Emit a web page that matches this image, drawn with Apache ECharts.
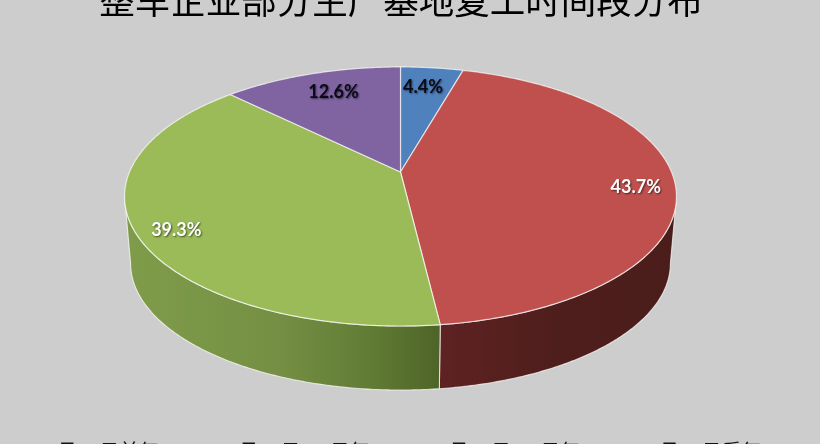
<!DOCTYPE html>
<html><head><meta charset="utf-8">
<style>html,body{margin:0;padding:0;background:#cdcdcd;overflow:hidden}#c{width:820px;height:444px}</style>
<script src="https://cdn.jsdelivr.net/npm/echarts@6/dist/echarts.min.js"></script>
</head><body><div id="c"></div>
<script>
var titleText = '整车企业部分生产基地复工时间段分布';
var categories = ['2月10日前复工', '2月10日-17日复工', '2月18日-24日复工', '2月25日后复工'];
var values = [4.4, 43.7, 39.3, 12.6];
var colors = ['#4f81bd', '#c0504d', '#9bbb59', '#8064a2'];
var labelColors = ['#0b0b14', '#ffffff', '#ffffff', '#0b0b14'];
var labelShadow = ['rgba(20,30,60,.7)', 'rgba(40,20,20,.8)', 'rgba(40,50,20,.8)', 'rgba(30,20,50,.7)'];
var labelNudge = [[-4, 3], [11, 7], [-10, 10], [8, 3]];
var wallStops = [
  null,
  [[0, '#5e2222'], [0.5, '#4e1e1c'], [1, '#4a1d1b']],
  [[0, '#7f9c4a'], [0.5, '#748f43'], [0.8, '#5f7a33'], [1, '#4e6428']],
  null
];

// Tilted-disc projection: circle angle -> screen point
var CX = 400.5, TOP_Y = 172, BOT_Y = 239.4, BOT_SCALE = 0.978;
var A = 271, B = 124.9, P = -0.189;
function proj(theta, r, yBase, s) {
  var u = r * Math.sin(theta), v = -r * Math.cos(theta), w = 1 + P * v;
  return [CX + s * A * u / w, yBase + s * B * v / w];
}
var total = values.reduce(function (a, b) { return a + b; }, 0);
var TWO_PI = Math.PI * 2;
var FRONT_A = Math.acos(P), FRONT_B = TWO_PI - FRONT_A;

function arc(a0, a1, yBase, s) {
  var pts = [], n = Math.max(2, Math.ceil(Math.abs(a1 - a0) / 0.01));
  for (var i = 0; i <= n; i++) pts.push(proj(a0 + (a1 - a0) * i / n, 1, yBase, s));
  return pts;
}
function renderSlice(idx) {
  return function (params, api) {
    var v = api.value(0);
    var before = values.slice(0, idx).reduce(function (a, b) { return a + b; }, 0);
    var a0 = before / total * TWO_PI, a1 = (before + v) / total * TWO_PI;
    var kids = [];
    var w0 = Math.max(a0, FRONT_A), w1 = Math.min(a1, FRONT_B);
    if (w1 > w0) {
      var wall = arc(w0, w1, TOP_Y, 1).concat(arc(w1, w0, BOT_Y, BOT_SCALE));
      var xs = wall.map(function (p) { return p[0]; });
      var stops = wallStops[idx];
      kids.push({
        type: 'polygon', shape: { points: wall },
        style: {
          fill: new echarts.graphic.LinearGradient(Math.min.apply(null, xs), 0, Math.max.apply(null, xs), 0,
            stops.map(function (s) { return { offset: s[0], color: s[1] }; }), true),
          stroke: 'rgba(255,255,255,.7)', lineWidth: 1.1
        }
      });
    }
    var face = [[CX, TOP_Y]].concat(arc(a0, a1, TOP_Y, 1));
    kids.push({
      type: 'polygon', shape: { points: face },
      style: { fill: colors[idx], stroke: 'rgba(255,255,255,.68)', lineWidth: 1.2, lineJoin: 'round' }
    });
    var mid = (a0 + a1) / 2, lp = proj(mid, 0.82, TOP_Y, 1), nudge = labelNudge[idx];
    kids.push({
      type: 'text', z2: 10, x: lp[0] + nudge[0], y: lp[1] + nudge[1],
      style: {
        text: v.toFixed(1) + '%', fill: labelColors[idx],
        font: 'bold 18px Lato, "Open Sans", sans-serif', align: 'center', verticalAlign: 'middle',
        textShadowColor: labelShadow[idx], textShadowBlur: 2, textShadowOffsetX: 1, textShadowOffsetY: 1
      }
    });
    return { type: 'group', children: kids };
  };
}

var chart = echarts.init(document.getElementById('c'), null, { renderer: 'canvas' });
chart.setOption({
  animation: false,
  backgroundColor: '#cdcdcd',
  title: {
    text: titleText, left: 396, textAlign: 'center', top: -22,
    textStyle: { fontFamily: '"Noto Sans CJK SC"', fontSize: 35.5, fontWeight: 'normal', color: '#000' }
  },
  legend: {
    data: categories, left: 27, top: 436, itemWidth: 9, itemHeight: 5, itemGap: 34,
    icon: 'rect',
    textStyle: { fontFamily: '"Noto Sans CJK SC"', fontSize: 20, color: '#111' }
  },
  series: categories.map(function (name, i) {
    return {
      type: 'custom', name: name, coordinateSystem: 'none', silent: true,
      itemStyle: { color: colors[i] },
      renderItem: renderSlice(i),
      data: [[values[i]]]
    };
  })
});
</script></body></html>
